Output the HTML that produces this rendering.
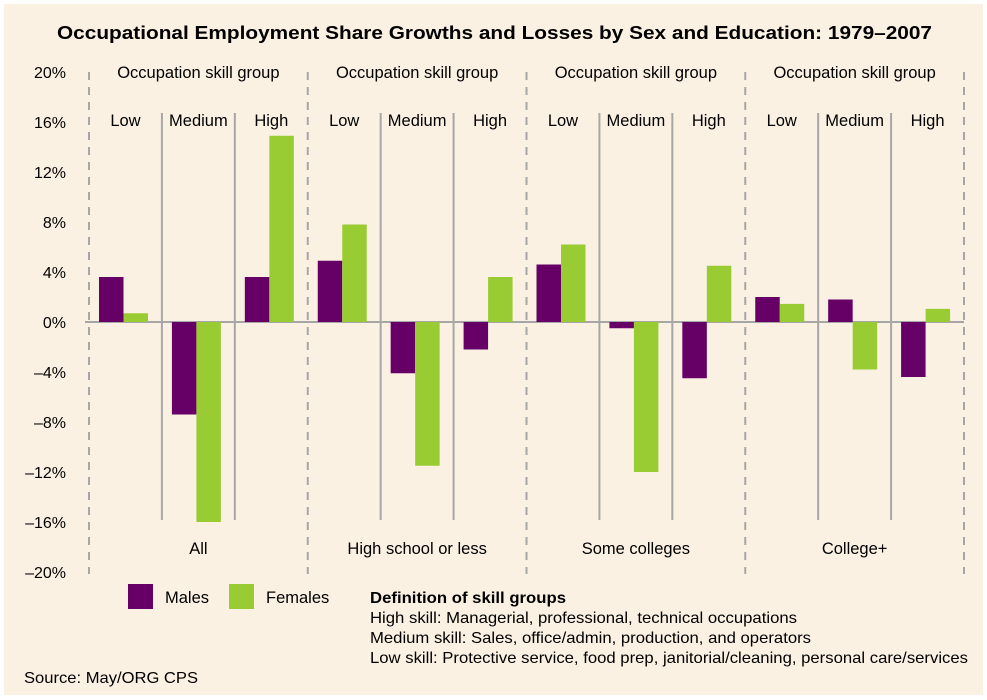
<!DOCTYPE html>
<html><head><meta charset="utf-8"><style>
html,body{margin:0;padding:0;background:#fff;}
body{width:987px;height:700px;position:relative;overflow:hidden;font-family:"Liberation Sans",Arial,sans-serif;}
#panel{position:absolute;left:4px;top:4px;width:979px;height:691px;background:#fbf1e3;}
</style></head><body>
<div id="panel"></div>
<svg id="chart" width="987" height="700" style="position:absolute;left:0;top:0" font-family="Liberation Sans, Arial, sans-serif">
<text x="57" y="39" font-size="18" font-weight="bold" fill="#000" textLength="875" lengthAdjust="spacingAndGlyphs">Occupational Employment Share Growths and Losses by Sex and Education: 1979–2007</text>
<g id="grid"></g><g id="bars"></g><g id="labels"></g>
<g>
<rect x="128" y="584" width="25" height="25" fill="#660066"/>
<text x="165" y="603" font-size="16.5">Males</text>
<rect x="229" y="584" width="25" height="25" fill="#99cc33"/>
<text x="266" y="603" font-size="16.5">Females</text>
</g>
<g font-size="16">
<text x="370" y="603" font-weight="bold" textLength="196" lengthAdjust="spacingAndGlyphs">Definition of skill groups</text>
<text x="370" y="623" textLength="427" lengthAdjust="spacingAndGlyphs">High skill: Managerial, professional, technical occupations</text>
<text x="370" y="643" textLength="441" lengthAdjust="spacingAndGlyphs">Medium skill: Sales, office/admin, production, and operators</text>
<text x="370" y="663" textLength="598" lengthAdjust="spacingAndGlyphs">Low skill: Protective service, food prep, janitorial/cleaning, personal care/services</text>
</g>
<text x="24" y="683" font-size="16" textLength="174" lengthAdjust="spacingAndGlyphs">Source: May/ORG CPS</text>
</svg>
<script>
const groups = ["All","High school or less","Some colleges","College+"];
const skills = ["Low","Medium","High"];
const males = [3.6,-7.4,3.6, 4.9,-4.1,-2.2, 4.6,-0.5,-4.5, 2.0,1.8,-4.4];
const females = [0.7,-16.0,14.9, 7.8,-11.5,3.6, 6.2,-12.0,4.5, 1.45,-3.8,1.05];
const yTicks = [20,16,12,8,4,0,-4,-8,-12,-16,-20];
const tickLabels = ["20%","16%","12%","8%","4%","0%","–4%","–8%","–12%","–16%","–20%"];

const NS="http://www.w3.org/2000/svg";
const X0=89, GW=218.75, SW=GW/3;
function y(v){return 322-v*12.5;}
function gx(g){return X0+g*GW;}
function sx(g,s){return gx(g)+s*SW;}
function mk(tag,attrs,parent,txt){const e=document.createElementNS(NS,tag);for(const k in attrs)e.setAttribute(k,attrs[k]);if(txt!==undefined)e.textContent=txt;parent.appendChild(e);return e;}
const grid=document.getElementById('grid'),bars=document.getElementById('bars'),labels=document.getElementById('labels');

yTicks.forEach((t,i)=>{
  const el=mk('text',{x:66,y:y(t)+6,'text-anchor':'end','font-size':16,fill:'#000'},labels,tickLabels[i]);
  
  
});
for(let g=0;g<=groups.length;g++){
  const l=mk('line',{x1:gx(g),x2:gx(g),y1:72,y2:574,stroke:'#a6a6a6','stroke-width':2,'stroke-dasharray':'8,7'},grid);
  
  
}
const zl=mk('line',{x1:X0-4,x2:gx(4),y1:y(0),y2:y(0),stroke:'#a6a6a6','stroke-width':2},grid);


groups.forEach((gname,g)=>{
  for(let s=1;s<3;s++){
    const l=mk('line',{x1:sx(g,s),x2:sx(g,s),y1:113,y2:520,stroke:'#a6a6a6','stroke-width':2},grid);
    
    
  }
  const h=mk('text',{x:gx(g)+GW/2,y:78,'text-anchor':'middle','font-size':16.5},labels,'Occupation skill group');
  
  
  const gl=mk('text',{x:gx(g)+GW/2,y:554,'text-anchor':'middle','font-size':16.5},labels,gname);
  
  
  skills.forEach((sk,s)=>{
    const t=mk('text',{x:sx(g,s)+SW/2,y:126,'text-anchor':'middle','font-size':16.5},labels,sk);
    
    
    const i=g*3+s, bx=sx(g,s)+10, bw=24.5;
    [[males[i],'#660066','bar-male'],[females[i],'#99cc33','bar-female']].forEach(([v,c,n],k)=>{
      const r=mk('rect',{x:bx+k*bw,y:Math.min(y(v),y(0)),width:bw,height:Math.abs(y(v)-y(0)),fill:c},bars);
      
      
    });
  });
});
</script>
</body></html>
